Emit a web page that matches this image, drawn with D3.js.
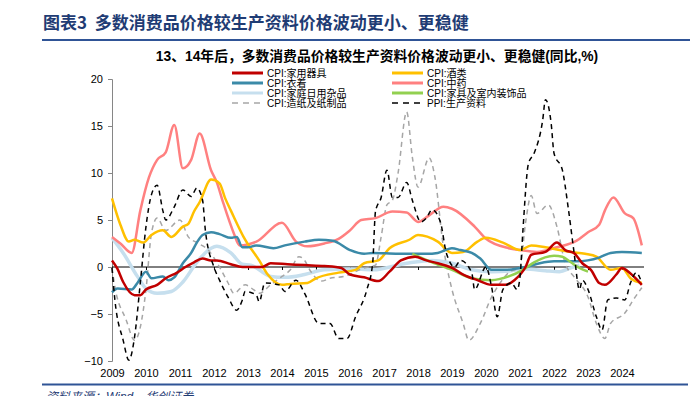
<!DOCTYPE html>
<html>
<head>
<meta charset="utf-8">
<script src="https://cdn.jsdelivr.net/npm/d3@7"></script>
<style>
  body { margin: 0; background: #fff; }
  svg { display: block; font-family: 'Liberation Sans', 'Noto Sans CJK SC', sans-serif; }
</style>
</head>
<body>
<svg id="chart" width="696" height="396"></svg>
<script>
// series values: [month, yoy %]
const appliances = [["2009-01",0.7],["2009-03",-0.2],["2009-05",-1.6],["2009-09",-3.0],["2009-11",-3.0],["2010-01",-2.4],["2010-05",-1.9],["2010-08",-1.2],["2010-12",-0.6],["2011-03",0],["2011-06",0.5],["2011-09",0.9],["2011-12",0.7],["2012-02",0.7],["2012-07",0.3],["2012-11",0],["2013-06",0],["2013-09",0.4],["2014-03",0.3],["2014-09",0.2],["2015-04",0.1],["2015-10",-0.1],["2016-01",-0.8],["2016-06",-1.1],["2016-11",-1.5],["2017-03",-0.5],["2017-07",0.7],["2017-12",1.1],["2018-04",0.7],["2018-08",0.4],["2019-01",-0.1],["2019-05",-0.8],["2019-10",-1.4],["2020-03",-1.9],["2020-08",-1.9],["2020-11",-1.4],["2021-03",0],["2021-05",1.3],["2021-10",1.6],["2022-02",2.6],["2022-05",1.8],["2022-08",1.5],["2022-11",0.4],["2023-02",-0.3],["2023-05",-1.7],["2023-07",-1.9],["2023-11",-0.8],["2024-01",-0.1],["2024-04",-0.7],["2024-08",-1.9]]
const liquor = [["2009-01",7.3],["2009-04",4.5],["2009-07",2.7],["2009-09",2.9],["2009-12",2.6],["2010-03",3.4],["2010-07",3.9],["2010-10",3.2],["2011-02",4.3],["2011-04",4.6],["2011-06",5.9],["2011-08",6.9],["2011-12",9.3],["2012-03",8.9],["2012-05",7.3],["2012-07",6.0],["2012-12",2.9],["2013-05",0.7],["2013-08",-0.8],["2014-01",-1.9],["2014-04",-1.8],["2014-10",-1.7],["2015-01",-1.2],["2015-09",-0.6],["2016-03",-0.3],["2016-06",0.4],["2016-11",0.7],["2017-03",2.0],["2017-10",2.9],["2018-01",3.4],["2018-08",2.7],["2019-01",1.5],["2019-05",1.6],["2019-10",2.7],["2020-01",3.1],["2020-07",2.6],["2021-01",1.8],["2021-05",2.3],["2021-10",2.1],["2022-03",1.8],["2022-07",1.6],["2022-12",1.4],["2023-04",1.1],["2023-09",-0.3],["2024-01",-0.1],["2024-04",-1.2],["2024-08",-1.7]]
const clothing = [["2009-01",-2.7],["2009-03",-2.3],["2009-08",-2.4],["2009-10",-1.7],["2010-01",-0.5],["2010-03",-1.2],["2010-07",-1.0],["2010-09",-1.4],["2010-11",-1.1],["2011-02",0.4],["2011-05",1.5],["2011-07",2.6],["2011-09",3.4],["2011-12",3.7],["2012-03",3.5],["2012-07",3.1],["2012-09",3.2],["2012-11",2.1],["2013-01",2.1],["2013-04",2.3],["2013-10",2.0],["2014-02",2.3],["2014-09",2.7],["2015-02",2.9],["2015-07",2.8],["2016-01",1.8],["2016-06",1.4],["2016-09",1.5],["2017-06",1.4],["2018-04",1.4],["2018-08",1.5],["2019-01",2.0],["2019-04",1.8],["2019-08",1.5],["2019-11",0.9],["2020-03",-0.3],["2020-08",-0.3],["2021-03",0],["2021-08",0.4],["2022-01",0.6],["2022-09",0.6],["2023-05",1.0],["2023-09",1.5],["2024-01",1.6],["2024-08",1.5]]
const medicine = [["2009-01",3.2],["2009-04",2.5],["2009-08",1.5],["2009-11",6.0],["2010-02",9.5],["2010-05",11.4],["2010-08",12.2],["2010-11",15.1],["2011-02",10.5],["2011-05",11.4],["2011-08",14.2],["2011-12",10.3],["2012-02",9.0],["2012-04",7.1],["2012-08",3.6],["2012-10",2.3],["2013-04",2.7],["2014-01",4.7],["2014-06",2.7],["2014-10",2.2],["2015-04",2.5],["2015-09",3.0],["2016-01",3.9],["2016-05",5.0],["2016-10",5.2],["2017-04",5.9],["2017-09",5.8],["2018-01",4.8],["2018-05",5.5],["2018-10",6.4],["2019-01",6.2],["2019-09",4.3],["2020-01",3.0],["2020-09",2.0],["2021-01",1.8],["2021-07",1.6],["2022-02",2.1],["2022-09",2.8],["2023-01",3.7],["2023-05",4.5],["2023-07",6.0],["2023-10",7.4],["2024-02",5.7],["2024-05",5.2],["2024-08",2.3]]
const household = [["2009-01",3.1],["2009-05",1.5],["2009-10",-1.0],["2010-01",-2.3],["2010-05",-2.8],["2010-10",-2.6],["2011-02",-1.6],["2011-07",0.5],["2011-12",2.0],["2012-02",2.2],["2012-07",1.5],["2012-11",0.3],["2013-02",0.2],["2013-09",-1.0],["2014-02",-1.1],["2014-09",-0.8],["2015-04",-0.3],["2016-01",-0.2],["2016-09",-0.3],["2017-09",0.4],["2018-06",0.7],["2019-01",0.4],["2019-08",-0.3],["2020-03",-0.5],["2020-10",-0.4],["2021-03",-0.2],["2021-10",-0.4],["2022-03",-0.5],["2022-07",-0.1],["2022-10",0.2]]
const furniture = [["2017-11",1.4],["2018-06",0.5],["2019-01",-0.3],["2019-08",-1.2],["2020-03",-1.4],["2020-09",-1.0],["2021-02",-0.3],["2021-06",0.5],["2022-01",1.2],["2022-04",1.1],["2022-07",0.5],["2022-10",-0.1],["2023-01",-0.5]]
const paper = [["2009-01",-0.1],["2009-02",-2.1],["2009-06",-5.6],["2009-09",-7.8],["2009-11",-6.4],["2010-01",-2.4],["2010-03",3.6],["2010-05",5.2],["2010-08",3.9],["2011-01",5.0],["2011-04",3.2],["2011-07",2.6],["2011-11",1.8],["2012-03",0],["2012-06",-1.7],["2012-08",-2.8],["2012-12",-1.9],["2013-03",-2.4],["2013-05",-2.8],["2013-09",-1.9],["2014-01",-1.0],["2014-04",-0.3],["2014-07",1.1],["2014-09",0.7],["2014-11",-0.4],["2015-03",-1.5],["2015-06",-1.2],["2015-11",-1.0],["2016-06",-0.1],["2016-10",0.2],["2016-12",3.2],["2017-02",6.6],["2017-04",7.1],["2017-06",10.0],["2017-09",16.5],["2017-11",11.7],["2018-01",8.5],["2018-05",11.6],["2018-07",9.6],["2018-10",2.1],["2019-01",-2.4],["2019-05",-6.0],["2019-07",-7.8],["2019-11",-6.0],["2020-03",-3.2],["2020-06",-1.7],["2020-09",-0.6],["2021-01",0],["2021-03",4.7],["2021-05",7.6],["2021-07",5.7],["2021-11",6.6],["2022-02",4.3],["2022-05",0.4],["2022-08",-1.0],["2023-01",-3.2],["2023-04",-6.0],["2023-07",-7.6],["2023-09",-6.0],["2024-02",-4.9],["2024-05",-3.5],["2024-08",-2.2]]
const ppi = [["2009-01",-0.1],["2009-02",-3.5],["2009-05",-7.8],["2009-07",-9.9],["2009-09",-7.4],["2009-11",-1.7],["2010-01",4.3],["2010-03",7.7],["2010-05",8.7],["2010-07",6.0],["2010-08",5.0],["2010-11",6.4],["2011-02",8.2],["2011-05",7.5],["2011-07",8.4],["2011-09",7.1],["2011-10",3.9],["2012-01",0],["2012-03",-1.4],["2012-06",-3.2],["2012-09",-4.6],["2012-11",-3.5],["2012-12",-2.6],["2013-04",-3.0],["2013-05",-3.7],["2013-07",-1.7],["2013-12",-1.9],["2014-02",-2.6],["2014-06",-1.4],["2014-09",-2.8],["2015-02",-6.0],["2015-06",-6.0],["2015-09",-7.6],["2015-12",-7.6],["2016-03",-5.3],["2016-07",-2.4],["2016-09",0.4],["2016-10",5.9],["2016-12",7.4],["2017-02",10.3],["2017-04",7.4],["2017-06",7.4],["2017-09",9.0],["2017-11",7.1],["2018-02",4.8],["2018-04",5.2],["2018-06",6.1],["2018-09",4.7],["2018-11",1.5],["2019-02",0],["2019-04",0.7],["2019-08",-0.6],["2019-09",-2.4],["2020-01",0],["2020-03",-2.1],["2020-05",-5.3],["2020-07",-2.4],["2020-10",-1.7],["2020-12",-2.4],["2021-01",-1.0],["2021-02",3.9],["2021-04",11.0],["2021-06",12.1],["2021-09",15.6],["2021-10",17.8],["2021-12",15.3],["2022-01",12.1],["2022-04",10.3],["2022-06",6.4],["2022-08",1.8],["2022-10",-2.4],["2022-11",-1.4],["2023-01",-2.4],["2023-04",-5.3],["2023-06",-6.7],["2023-08",-3.5],["2023-11",-3.3],["2024-02",-3.5],["2024-04",-1.7],["2024-06",-0.6],["2024-08",-1.7]]

const yTicks = [-10, -5, 0, 5, 10, 15, 20]
const yearTicks = d3.range(2009, 2025)

const title = '图表3\u00a0\u00a0多数消费品价格较生产资料价格波动更小、更稳健'
const subtitle = '13、14年后，多数消费品价格较生产资料价格波动更小、更稳健(同比,%)'
const source = '资料来源：Wind，华创证券'

// draw order matters: later ones sit on top
const series = [
  { name: 'CPI:家庭日用杂品', data: household, color: '#c6dfee', width: 3.5, dash: null, col: 0, row: 2 },
  { name: 'CPI:造纸及纸制品', data: paper, color: '#a6a6a6', width: 1.5, dash: '5,4', col: 0, row: 3 },
  { name: 'CPI:中药', data: medicine, color: '#ff8080', width: 2.5, dash: null, col: 1, row: 1 },
  { name: 'CPI:酒类', data: liquor, color: '#ffc000', width: 2.5, dash: null, col: 1, row: 0 },
  { name: 'CPI:衣着', data: clothing, color: '#3b8aa8', width: 2.5, dash: null, col: 0, row: 1 },
  { name: 'CPI:家具及室内装饰品', data: furniture, color: '#92d050', width: 2.5, dash: null, col: 1, row: 2 },
  { name: 'CPI:家用器具', data: appliances, color: '#c00000', width: 2.5, dash: null, col: 0, row: 0 },
  { name: 'PPI:生产资料', data: ppi, color: '#000000', width: 1.5, dash: '5,4', col: 1, row: 3 },
]

const parse = d3.timeParse('%Y-%m')
const svg = d3.select('#chart')

const x = d3.scaleTime()
  .domain([parse('2009-01'), parse('2024-09')])
  .range([112, 644.7])
const y = d3.scaleLinear().domain([-10, 20]).range([361, 79])

// header
svg.append('text')
  .attr('x', 43).attr('y', 29)
  .attr('font-size', 17).attr('font-weight', 'bold')
  .attr('fill', '#1f3c74')
  .attr('font-family', "'Noto Sans CJK SC', sans-serif")
  .text(title)
svg.append('line').attr('x1', 42).attr('x2', 690).attr('y1', 40).attr('y2', 40)
  .attr('stroke', '#2f5496').attr('stroke-width', 2)
svg.append('text')
  .attr('x', 377).attr('y', 61)
  .attr('text-anchor', 'middle')
  .attr('font-size', 13.8).attr('font-weight', 'bold')
  .attr('font-family', "'Liberation Sans', 'Noto Sans CJK SC', sans-serif")
  .text(subtitle)

// footer
svg.append('line').attr('x1', 42).attr('x2', 688).attr('y1', 384.5).attr('y2', 384.5)
  .attr('stroke', '#2f5496').attr('stroke-width', 2)
svg.append('text')
  .attr('x', 46).attr('y', 401)
  .attr('font-size', 12).attr('font-style', 'italic')
  .attr('fill', '#1f3c74')
  .text(source)

// y axis
const yAxis = svg.append('g')
  .attr('transform', 'translate(112,0)')
  .call(d3.axisLeft(y).tickValues(yTicks).tickSize(4).tickPadding(5))
yAxis.select('.domain').attr('stroke', '#868686')
yAxis.selectAll('.tick line').attr('stroke', '#868686')
yAxis.selectAll('text').attr('font-size', 11).attr('fill', '#000')
  .attr('font-family', "'Liberation Sans', sans-serif")

// zero line with year ticks
const zeroAxis = svg.append('g')
  .attr('transform', `translate(0,${y(0)})`)
  .call(d3.axisBottom(x).tickValues(yearTicks.map((d) => new Date(d, 0, 1))).tickSize(3).tickFormat(''))
zeroAxis.select('.domain').attr('stroke', '#000').attr('d', `M112,0H644`)
zeroAxis.selectAll('.tick line').attr('stroke', '#000')

// year labels at the bottom
const xLabels = svg.append('g')
  .attr('transform', 'translate(0,366)')
  .call(d3.axisBottom(x).tickValues(yearTicks.map((d) => new Date(d, 0, 1))).tickSize(0).tickFormat(d3.timeFormat('%Y')))
xLabels.select('.domain').remove()
xLabels.selectAll('text').attr('font-size', 11).attr('fill', '#000')
  .attr('font-family', "'Liberation Sans', sans-serif")

// lines
const line = d3.line()
  .x((d) => x(parse(d[0])))
  .y((d) => y(d[1]))
  .curve(d3.curveMonotoneX)

const lines = svg.append('g').attr('fill', 'none').attr('stroke-linejoin', 'round')
series.forEach((s) => {
  lines.append('path')
    .datum(s.data)
    .attr('d', line)
    .attr('stroke', s.color)
    .attr('stroke-width', s.width)
    .attr('stroke-dasharray', s.dash)
})

// legend, two columns of four
const legend = svg.append('g')
const colX = [232, 392]
series.forEach((s) => {
  const gx = colX[s.col]
  const gy = 73 + s.row * 10
  legend.append('line')
    .attr('x1', gx).attr('x2', gx + 31).attr('y1', gy).attr('y2', gy)
    .attr('stroke', s.color)
    .attr('stroke-width', s.dash ? 1.5 : 3)
    .attr('stroke-dasharray', s.dash ? '6,5' : null)
  legend.append('text')
    .attr('x', gx + 35).attr('y', gy + 3.5)
    .attr('font-size', 10)
    .text(s.name)
})
</script>
</body>
</html>
